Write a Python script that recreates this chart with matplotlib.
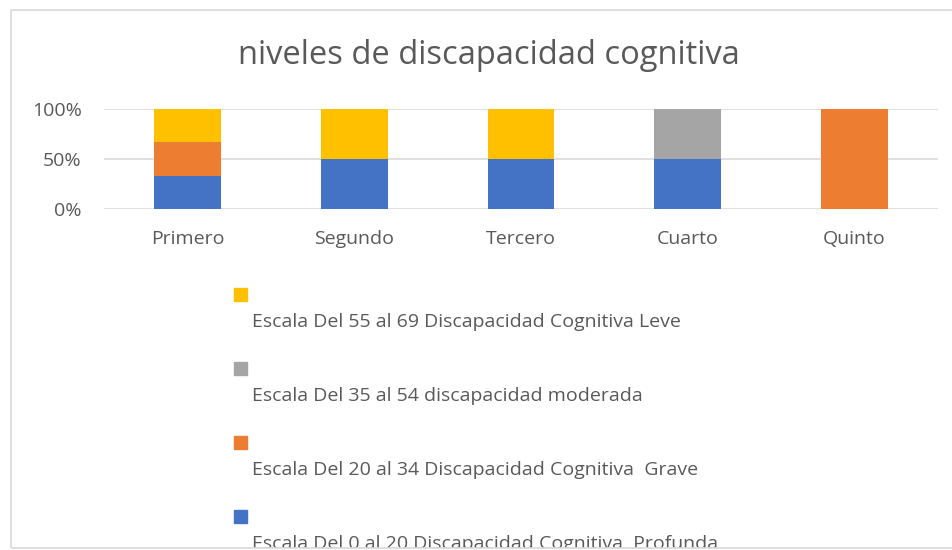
import numpy as np
import matplotlib.pyplot as plt
from matplotlib.patches import Rectangle

# grades and share of each level (fractions of 1)
grados = ["Primero", "Segundo", "Tercero", "Cuarto", "Quinto"]
profunda = [1/3, 0.5, 0.5, 0.5, 0.0]
grave = [1/3, 0.0, 0.0, 0.0, 1.0]
moderada = [0.0, 0.0, 0.0, 0.5, 0.0]
leve = [1/3, 0.5, 0.5, 0.0, 0.0]

nombres = ["Escala Del 0 al 20 Discapacidad Cognitiva  Profunda",
           "Escala Del 20 al 34 Discapacidad Cognitiva  Grave",
           "Escala Del 35 al 54 discapacidad moderada",
           "Escala Del 55 al 69 Discapacidad Cognitiva Leve"]
colores = ["#4472C4", "#ED7D31", "#A5A5A5", "#FFC000"]

plt.rcParams['font.family'] = ['Open Sans', 'DejaVu Sans']
gris = "#595959"

W, H = 953, 550
fig = plt.figure(figsize=(W / 100, H / 100), dpi=100)
ax = fig.add_axes([104 / W, 1 - 209 / H, 834 / W, 100 / H])

x = np.arange(len(grados))
abajo = np.zeros(len(grados))
for serie, c in zip([profunda, grave, moderada, leve], colores):
    ax.bar(x, serie, 0.4, bottom=abajo, color=c, zorder=3)
    abajo += np.array(serie)

ax.set_xlim(-0.5, len(grados) - 0.5)
ax.set_ylim(0, 1)
ax.set_yticks([0, 0.5, 1])
ax.set_yticklabels(["0%", "50%", "100%"])
ax.set_xticks(x)
ax.set_xticklabels(grados)
ax.tick_params(length=0, labelsize=14, colors=gris)
ax.tick_params(axis='y', pad=16)
ax.tick_params(axis='x', pad=15)
ax.yaxis.grid(True, color="#D9D9D9", linewidth=1.2, zorder=0)
for s in ax.spines.values():
    s.set_visible(False)

fig.text(489 / W, 1 - 55 / H, "niveles de discapacidad cognitiva",
         ha="center", va="center", fontsize=23.5, color=gris)

# legend drawn by hand: square above each label, top entry = last series
for i, k in enumerate([3, 2, 1, 0]):
    ym = 294 + 74 * i
    fig.add_artist(Rectangle((234 / W, 1 - (ym + 6.5) / H), 13 / W, 13 / H,
                             transform=fig.transFigure, color=colores[k]))
    fig.text(252 / W, 1 - (ym + 28) / H, nombres[k], ha="left", va="center",
             fontsize=14, color=gris)

# chart frame, bottom cuts the last legend text
fig.add_artist(Rectangle((0, 0), 1, 2 / H, transform=fig.transFigure,
                         color="white", zorder=10))
fig.add_artist(Rectangle((11 / W, 2 / H), 1.1, 1 - 12 / H,
                         transform=fig.transFigure, fill=False,
                         edgecolor="#D9D9D9", linewidth=1.2, zorder=11))

fig.savefig("out.png", dpi=100)
